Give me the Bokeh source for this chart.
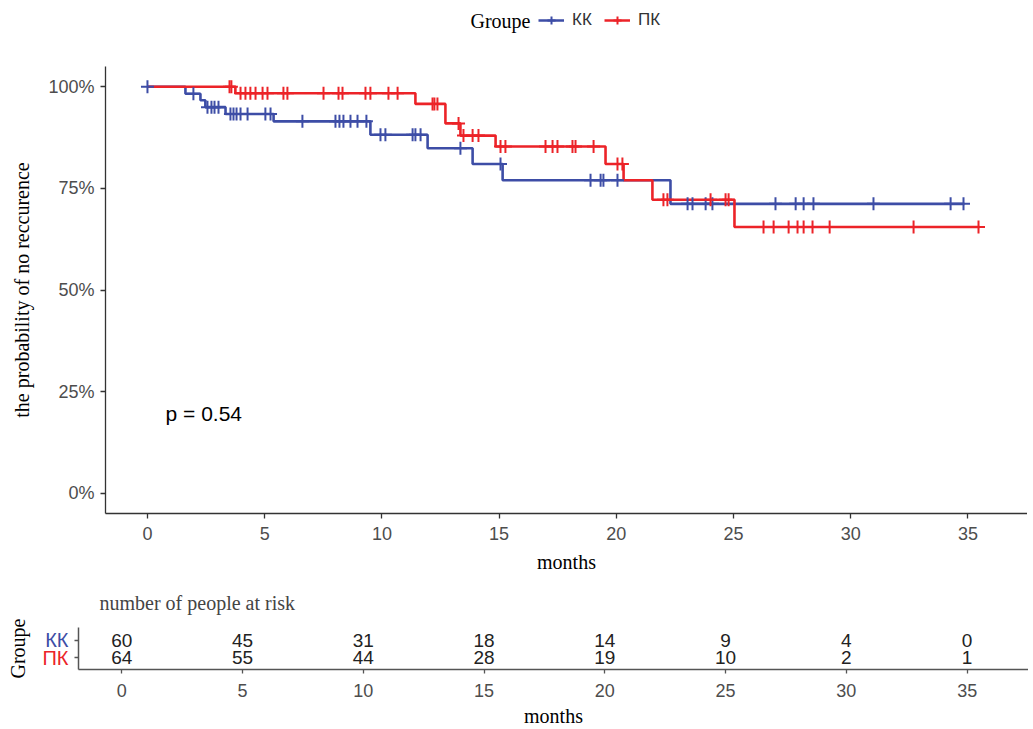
import numpy as np
from bokeh.plotting import figure
from bokeh.models import Range1d, FixedTicker, Legend, LegendItem, Label
from bokeh.layouts import column, row
from bokeh.embed import file_html
from bokeh.resources import INLINE
from bokeh.core.properties import value

# ---------------- data ----------------
groups = ["КК", "ПК"]
kk_step_months = [0, 1.62, 2.26, 2.47, 3.33, 5.38, 9.51, 11.95, 13.87, 15.15, 22.31, 34.85]
kk_step_surv = [100, 98.3, 96.7, 95.0, 93.3, 91.5, 88.2, 84.9, 81.0, 77.0, 71.2, 71.2]
pk_step_months = [0, 3.75, 11.43, 12.71, 13.35, 14.85, 19.54, 20.31, 21.54, 25.04, 35.5]
pk_step_surv = [100, 98.4, 95.8, 91.0, 88.0, 85.3, 81.0, 77.0, 72.2, 65.5, 65.5]
kk_censor_months = [0, 1.96, 2.56, 2.73, 2.86, 3.03, 3.54, 3.67, 3.80, 3.97, 4.27, 5.03, 5.25,
                    6.61, 8.02, 8.19, 8.36, 8.66, 8.96, 9.34, 9.94, 10.15, 11.31, 11.43, 11.65,
                    13.35, 15.06, 18.90, 19.33, 19.45, 20.05, 23.04, 23.25, 23.81, 24.10, 26.79,
                    27.65, 27.99, 28.41, 30.97, 34.26, 34.81]
pk_censor_months = [3.50, 3.58, 3.97, 4.18, 4.39, 4.61, 4.91, 5.12, 5.80, 5.97, 7.51, 8.15, 8.32,
                    9.30, 9.51, 10.28, 10.67, 12.16, 12.24, 12.37, 13.27, 13.48, 13.87, 14.12,
                    15.06, 15.27, 16.98, 17.28, 17.49, 18.13, 18.26, 19.03, 20.05, 20.26, 22.01,
                    22.18, 24.02, 24.66, 24.79, 26.28, 26.71, 27.35, 27.73, 27.99, 28.37, 29.10,
                    32.68, 35.45]
risk_months = [0, 5, 10, 15, 20, 25, 30, 35]
kk_at_risk = [60, 45, 31, 18, 14, 9, 4, 0]
pk_at_risk = [64, 55, 44, 28, 19, 10, 2, 1]
y_ticks = [0, 25, 50, 75, 100]
y_tick_labels = ["0%", "25%", "50%", "75%", "100%"]
p_value_text = "p = 0.54"

BLUE = "#3D4DA6"
RED = "#EC2328"
SANS = "Liberation Sans"
SERIF = "Liberation Serif"
TICK_COL = "#4D4D4D"
AXIS_COL = "#333333"


def surv_at(step_t, step_s, times):
    idx = np.searchsorted(np.array(step_t), np.array(times), side="right") - 1
    return list(np.array(step_s)[idx])


kk_censor_surv = surv_at(kk_step_months, kk_step_surv, kk_censor_months)
pk_censor_surv = surv_at(pk_step_months, pk_step_surv, pk_censor_months)


def bare(fig):
    fig.axis.visible = False
    fig.grid.visible = False
    fig.outline_line_color = None


# ---------------- legend strip (frame is aligned with the survival plot frame) ----------------
lf = figure(width=1027, height=66, output_backend="svg", toolbar_location=None,
            x_range=Range1d(0, 1), y_range=Range1d(0, 1), min_border=0)
bare(lf)
lk1 = lf.line([-5, -4], [-5, -4], color=BLUE, line_width=2.5)
lk2 = lf.scatter([-5], [-5], marker="cross", size=13, line_width=2, color=BLUE)
lp1 = lf.line([-5, -4], [-5, -4], color=RED, line_width=2.5)
lp2 = lf.scatter([-5], [-5], marker="cross", size=13, line_width=2, color=RED)
legend = Legend(items=[LegendItem(label=groups[0], renderers=[lk1, lk2]),
                       LegendItem(label=groups[1], renderers=[lp1, lp2])],
                orientation="horizontal", location=(433, 36),
                label_text_font=SANS, label_text_font_size="17px", label_text_color="#333333",
                glyph_width=26, glyph_height=20, spacing=12, label_standoff=8,
                padding=0, margin=0, border_line_color=None, background_fill_alpha=0)
lf.add_layout(legend)
lf.add_layout(Label(x=425, y=46, x_units="screen", y_units="screen", text="Groupe",
                    text_align="right", text_baseline="middle", text_font=SERIF,
                    text_font_size="20px", text_color="black"))

# ---------------- survival plot ----------------
p = figure(width=1027, height=509, output_backend="svg", toolbar_location=None,
           x_range=Range1d(-1.79, 37.54), y_range=Range1d(-5, 105),
           min_border_left=105, min_border_right=0, min_border_top=0, min_border_bottom=61)
p.grid.visible = False
p.outline_line_color = None

p.step(kk_step_months, kk_step_surv, mode="after", color=BLUE, line_width=2.6)
p.step(pk_step_months, pk_step_surv, mode="after", color=RED, line_width=2.6)
p.scatter(kk_censor_months, kk_censor_surv, marker="cross", size=13, line_width=2, color=BLUE)
p.scatter(pk_censor_months, pk_censor_surv, marker="cross", size=13, line_width=2, color=RED)

p.add_layout(Label(x=0.77, y=19.7, text=p_value_text, text_font=SANS, text_font_size="21px",
                   text_baseline="middle", text_align="left", text_color="black"))

p.xaxis.ticker = FixedTicker(ticks=risk_months)
p.yaxis.ticker = FixedTicker(ticks=y_ticks)
p.yaxis.major_label_overrides = {t: l for t, l in zip(y_ticks, y_tick_labels)}
p.xaxis.axis_label = "months"
p.yaxis.axis_label = "the probability of no reccurence"
for ax in (p.xaxis, p.yaxis):
    ax.axis_line_color = AXIS_COL
    ax.axis_line_width = 1.3
    ax.major_tick_line_color = AXIS_COL
    ax.major_tick_line_width = 1.3
    ax.major_tick_out = 5
    ax.major_tick_in = 0
    ax.minor_tick_line_color = None
    ax.major_label_text_font = SANS
    ax.major_label_text_font_size = "18px"
    ax.major_label_text_color = TICK_COL
    ax.axis_label_text_font = SERIF
    ax.axis_label_text_font_size = "20px"
    ax.axis_label_text_font_style = "normal"
    ax.axis_label_text_color = "black"
p.xaxis.major_label_standoff = 8
p.xaxis.axis_label_standoff = 8
p.yaxis.major_label_standoff = 6
p.yaxis.axis_label_standoff = 12

# ---------------- risk table: group labels (frame aligned with table frame) ----------------
lab = figure(width=69, height=154, output_backend="svg", toolbar_location=None,
             x_range=Range1d(0, 29), y_range=Range1d(0.3, 2.75),
             min_border_left=40, min_border_right=0, min_border_top=52, min_border_bottom=60)
lab.grid.visible = False
lab.outline_line_color = None
lab.xaxis.visible = False
lab.yaxis.ticker = FixedTicker(ticks=[])
lab.yaxis.axis_line_color = None
lab.yaxis.major_tick_line_color = None
lab.yaxis.minor_tick_line_color = None
lab.yaxis.axis_label = "Groupe"
lab.yaxis.axis_label_text_font = SERIF
lab.yaxis.axis_label_text_font_size = "20px"
lab.yaxis.axis_label_text_font_style = "normal"
lab.yaxis.axis_label_text_color = "black"
lab.yaxis.axis_label_standoff = 12
lab.text(x=[28, 28], y=[2, 1], text=groups, text_align="right", text_baseline="middle",
         text_font=value(SANS), text_font_size="20px", text_color=[BLUE, RED])

# ---------------- risk table ----------------
q = figure(width=959, height=154, output_backend="svg", toolbar_location=None,
           x_range=Range1d(-1.79, 37.54), y_range=Range1d(0.3, 2.75),
           min_border_left=8, min_border_right=0, min_border_top=52, min_border_bottom=60)
q.grid.visible = False
q.outline_line_color = None
q.title.text = "number of people at risk"
q.title.text_font = SERIF
q.title.text_font_size = "20px"
q.title.text_font_style = "normal"
q.title.align = "left"
q.title.offset = 21
q.title.standoff = 28

q.text(x=risk_months, y=[2] * len(risk_months), text=[str(v) for v in kk_at_risk],
       text_align="center", text_baseline="middle", text_font_size="19px",
       text_font=value(SANS), text_color="#222222")
q.text(x=risk_months, y=[1] * len(risk_months), text=[str(v) for v in pk_at_risk],
       text_align="center", text_baseline="middle", text_font_size="19px",
       text_font=value(SANS), text_color="#222222")

q.xaxis.ticker = FixedTicker(ticks=risk_months)
q.yaxis.ticker = FixedTicker(ticks=[1, 2])
q.yaxis.major_label_overrides = {1: " ", 2: " "}
q.yaxis.major_label_text_font_size = "6px"
q.yaxis.major_label_standoff = 0
q.xaxis.axis_label = "months"
for ax in (q.xaxis, q.yaxis):
    ax.axis_line_color = "#555555"
    ax.axis_line_width = 1.5
    ax.major_tick_line_color = "#555555"
    ax.major_tick_line_width = 1.3
    ax.major_tick_out = 4
    ax.major_tick_in = 0
    ax.minor_tick_line_color = None
q.xaxis.major_label_text_font = SANS
q.xaxis.major_label_text_font_size = "18px"
q.xaxis.major_label_text_color = TICK_COL
q.xaxis.axis_label_text_font = SERIF
q.xaxis.axis_label_text_font_size = "20px"
q.xaxis.axis_label_text_font_style = "normal"
q.xaxis.axis_label_text_color = "black"
q.xaxis.major_label_standoff = 10
q.xaxis.axis_label_standoff = 5

layout = column(lf, p, row(lab, q))
open("out.html", "w").write(file_html(layout, INLINE))
